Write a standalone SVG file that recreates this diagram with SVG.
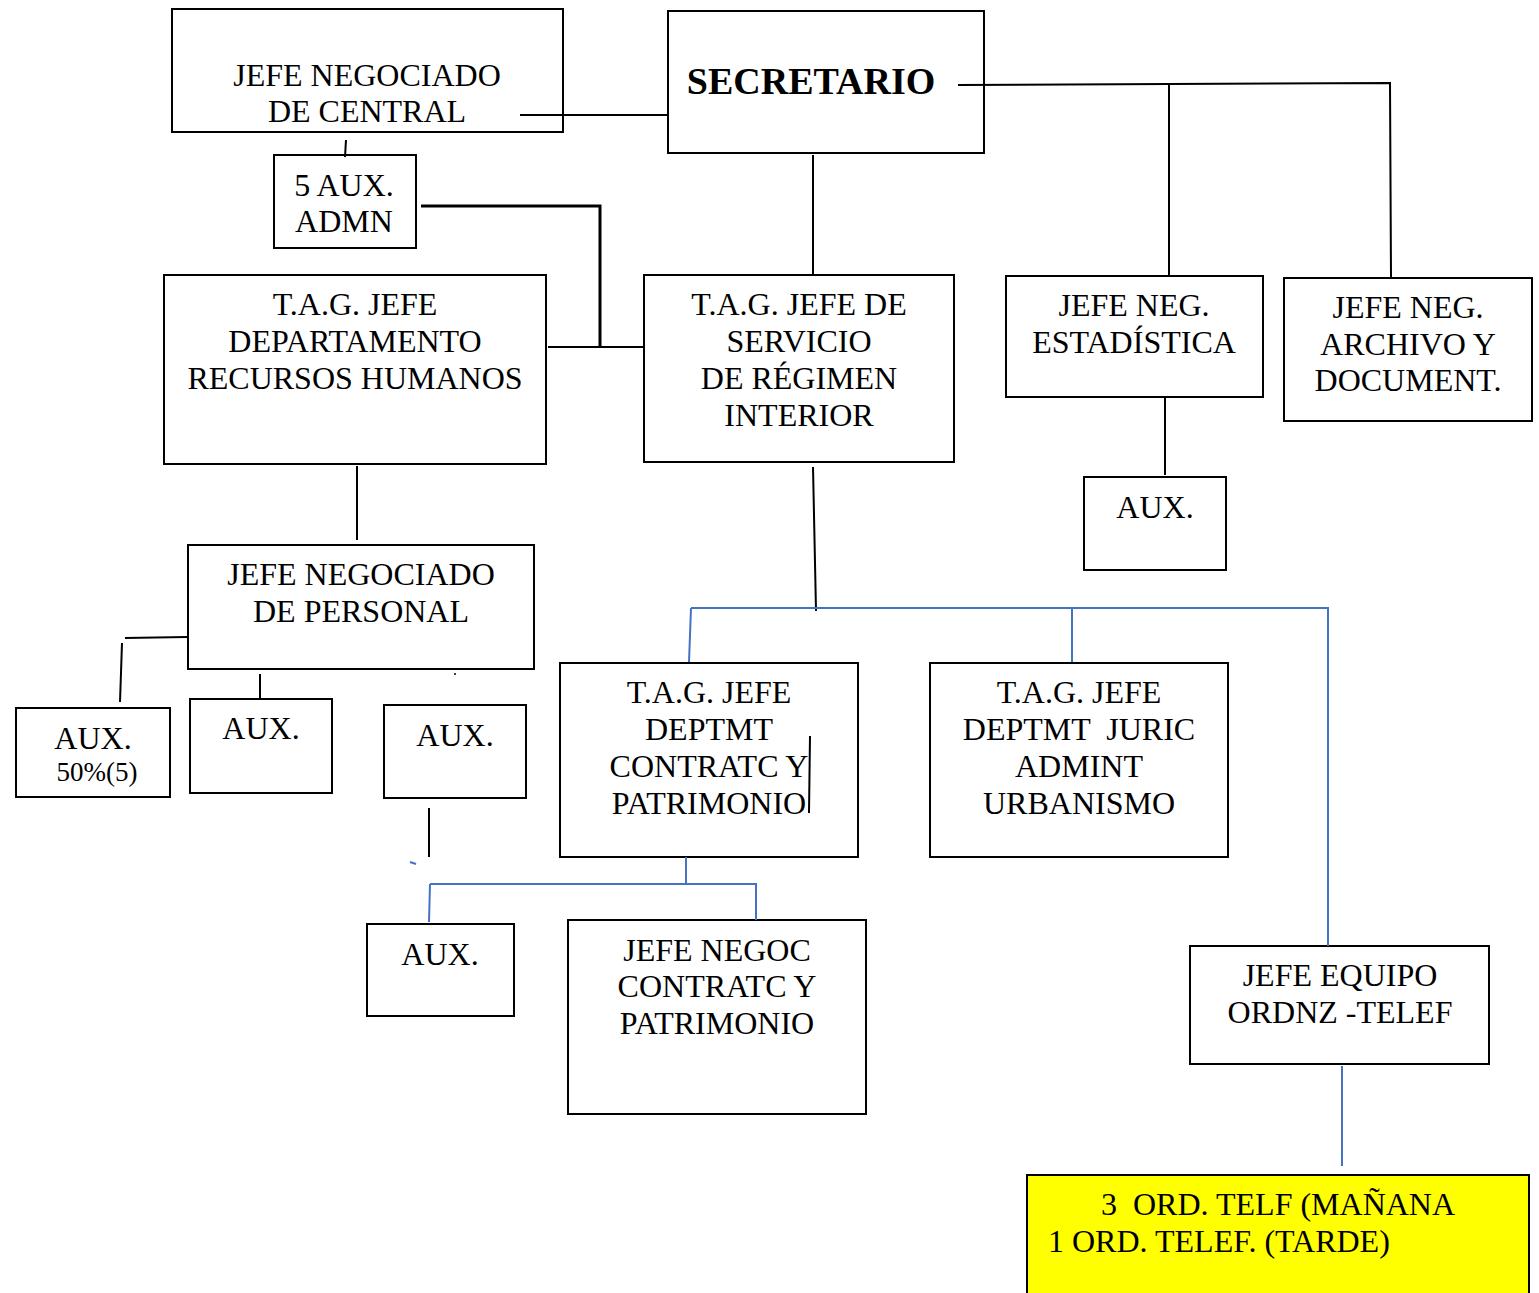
<svg xmlns="http://www.w3.org/2000/svg" width="1539" height="1293" viewBox="0 0 1539 1293">
<style>
.b{fill:#fff;stroke:#000;stroke-width:2}
.y{fill:#ffff00;stroke:#000;stroke-width:2}
text{font-family:"Liberation Serif","Times New Roman",serif;font-size:32px;fill:#000;text-anchor:middle}
.bk{stroke:#000;stroke-width:2;fill:none}
.bl{stroke:#4472c4;stroke-width:2;fill:none}
</style>
<rect width="1539" height="1293" fill="#fff"/>
<g id="n1"><rect class="b" x="172" y="9" width="391" height="123"/><text x="367" y="86">JEFE NEGOCIADO</text><text x="367" y="122">DE CENTRAL</text></g>
<g id="n2"><rect class="b" x="668" y="11" width="316" height="142"/><text x="811" y="94" style="font-weight:bold;font-size:38px">SECRETARIO</text></g>
<g id="n3"><rect class="b" x="274" y="155" width="142" height="93"/><text x="344" y="196">5 AUX.</text><text x="344" y="232">ADMN</text></g>
<g id="n4"><rect class="b" x="164" y="275" width="382" height="189"/><text x="355" y="315">T.A.G. JEFE</text><text x="355" y="352">DEPARTAMENTO</text><text x="355" y="389">RECURSOS HUMANOS</text></g>
<g id="n5"><rect class="b" x="644" y="275" width="310" height="187"/><text x="799" y="315">T.A.G. JEFE DE</text><text x="799" y="352">SERVICIO</text><text x="799" y="389">DE RÉGIMEN</text><text x="799" y="426">INTERIOR</text></g>
<g id="n6"><rect class="b" x="1006" y="276" width="257" height="121"/><text x="1134" y="316">JEFE NEG.</text><text x="1134" y="353">ESTADÍSTICA</text></g>
<g id="n7"><rect class="b" x="1284" y="278" width="248" height="143"/><text x="1408" y="318">JEFE NEG.</text><text x="1408" y="355">ARCHIVO Y</text><text x="1408" y="391">DOCUMENT.</text></g>
<g id="n8"><rect class="b" x="1084" y="477" width="142" height="93"/><text x="1155" y="518">AUX.</text></g>
<g id="n9"><rect class="b" x="188" y="545" width="346" height="124"/><text x="361" y="585">JEFE NEGOCIADO</text><text x="361" y="622">DE PERSONAL</text></g>
<g id="n10"><rect class="b" x="16" y="708" width="154" height="89"/><text x="93" y="749">AUX.</text><text x="97" y="781" style="font-size:27px">50%(5)</text></g>
<g id="n11"><rect class="b" x="190" y="699" width="142" height="94"/><text x="261" y="739">AUX.</text></g>
<g id="n12"><rect class="b" x="384" y="705" width="142" height="93"/><text x="455" y="746">AUX.</text></g>
<g id="n13"><rect class="b" x="560" y="663" width="298" height="194"/><text x="709" y="703">T.A.G. JEFE</text><text x="709" y="740">DEPTMT</text><text x="709" y="777">CONTRATC Y</text><text x="709" y="814">PATRIMONIO</text></g>
<g id="n14"><rect class="b" x="930" y="663" width="298" height="194"/><text x="1079" y="703">T.A.G. JEFE</text><text x="1079" y="740" style="white-space:pre">DEPTMT  JURIC</text><text x="1079" y="777">ADMINT</text><text x="1079" y="814">URBANISMO</text></g>
<g id="n15"><rect class="b" x="367" y="924" width="147" height="92"/><text x="440" y="965">AUX.</text></g>
<g id="n16"><rect class="b" x="568" y="920" width="298" height="194"/><text x="717" y="961">JEFE NEGOC</text><text x="717" y="997">CONTRATC Y</text><text x="717" y="1034">PATRIMONIO</text></g>
<g id="n17"><rect class="b" x="1190" y="946" width="299" height="118"/><text x="1340" y="986">JEFE EQUIPO</text><text x="1340" y="1023">ORDNZ -TELEF</text></g>
<g id="n18"><rect class="y" x="1027" y="1175" width="502" height="125"/><text x="1101" y="1215" style="text-anchor:start;white-space:pre">3  ORD. TELF (MAÑANA</text><text x="1048" y="1252" style="text-anchor:start">1 ORD. TELEF. (TARDE)</text></g>
<g id="connectors">
<path class="bk" d="M520 115H668"/>
<path class="bk" d="M346 140L345 157"/>
<path class="bk" style="stroke-width:3" d="M421 206H600V347"/>
<path class="bk" d="M548 347H645"/>
<path class="bk" d="M813 155V275"/>
<path class="bk" d="M958 85L1390 83L1391 278"/>
<path class="bk" d="M1169 85V275"/>
<path class="bk" d="M1165 398V475"/>
<path class="bk" d="M357 466V540"/>
<path class="bk" d="M187 637L125 638M122 643L120 702"/>
<path class="bk" d="M260 674V700"/>
<path class="bk" d="M429 808V857"/>
<path class="bk" d="M813 467L816 611"/>
<path class="bk" d="M810 736L809 813"/>
<path class="bl" d="M691 608H1328V946M691 608L689 662M1072 608V662"/>
<path class="bl" d="M686 857V884M430 884H756V920M430 884L429 922"/>
<path class="bl" d="M1342 1066V1166"/>
<path class="bl" d="M410 862L416 864"/>
<circle cx="455" cy="674" r="1" fill="#000"/>
</g>
</svg>
